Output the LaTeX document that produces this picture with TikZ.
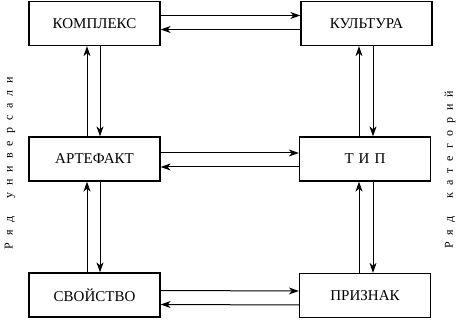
\documentclass[tikz,border=0pt]{standalone}
\usepackage{fontspec}
\setmainfont{Liberation Serif}
\usetikzlibrary{arrows.meta,calc}
\newcommand\ls{\hspace{7pt}}
\newcommand\ws{\hspace{18pt}}
\begin{document}
\begin{tikzpicture}[x=1pt,y=-1pt,
  box/.style={draw,line width=1.3pt,minimum width=131pt,minimum height=44pt,inner sep=0pt,font=\fontsize{15}{17}\selectfont},
  arr/.style={line width=1pt,-{Stealth[length=10pt,width=7pt,inset=3pt]}},
  side/.style={font=\fontsize{12}{14}\selectfont,rotate=90,inner sep=0pt}]
\useasboundingbox (0,0) rectangle (461,320);
\node[box] (kompl) at (94.5,23.5) {КОМПЛЕКС};
\node[box] (kult)  at (366.5,23.5) {КУЛЬТУРА};
\node[box] (art)   at (94.5,159) {АРТЕФАКТ};
\node[box] (tip)   at (365,159) {Т\hspace{5pt}И\hspace{5pt}П};
\node[box] (svoj)  at (94.5,295) {СВОЙСТВО};
\node[box] (priz)  at (365,295.5) {ПРИЗНАК};
% horizontal
\draw[arr] ($(kompl.east)+(0,-8)$) -- ($(kult.west)+(0,-8)$);
\draw[arr] ($(kult.west)+(0,6)$) -- ($(kompl.east)+(0,6)$);
\draw[arr] ($(art.east)+(0,-6)$) -- ($(tip.west)+(0,-6)$);
\draw[arr] ($(tip.west)+(0,8)$) -- ($(art.east)+(0,8)$);
\draw[arr] ($(svoj.east)+(0,-4.5)$) -- ($(priz.west)+(0,-4.5)$);
\draw[arr] ($(priz.west)+(0,9.5)$) -- ($(svoj.east)+(0,9.5)$);
% vertical left
\draw[arr] ($(art.north)+(-7.5,0)$) -- ($(kompl.south)+(-7.5,0)$);
\draw[arr] ($(kompl.south)+(5.5,0)$) -- ($(art.north)+(5.5,0)$);
\draw[arr] ($(svoj.north)+(-7.5,0)$) -- ($(art.south)+(-7.5,0)$);
\draw[arr] ($(art.south)+(5.5,0)$) -- ($(svoj.north)+(5.5,0)$);
% vertical right
\draw[arr] ($(tip.north)+(-6,0)$) -- ($(kult.south)+(-7.5,0)$);
\draw[arr] ($(kult.south)+(6.5,0)$) -- ($(tip.north)+(8,0)$);
\draw[arr] ($(priz.north)+(-6,0)$) -- ($(tip.south)+(-6,0)$);
\draw[arr] ($(tip.south)+(8,0)$) -- ($(priz.north)+(8,0)$);
% side labels
\node[side] (lrow) at (10,163) {Р\ls я\ls д\ws у\ls н\ls и\ls в\ls е\ls р\ls с\ls а\ls л\ls и};
\node[side] (rrow) at (450,170) {Р\ls я\ls д\ws к\ls а\ls т\ls е\ls г\ls о\ls р\ls и\ls й};
\end{tikzpicture}
\end{document}
